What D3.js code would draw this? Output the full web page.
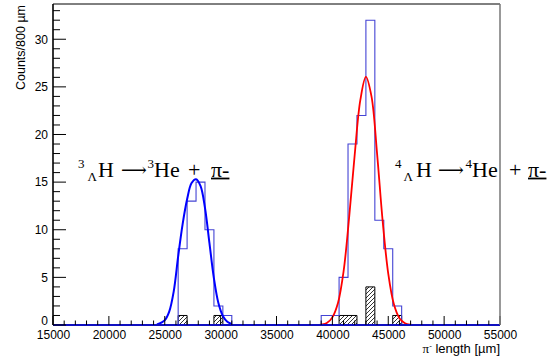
<!DOCTYPE html>
<html>
<head>
<meta charset="utf-8">
<script src="https://cdn.jsdelivr.net/npm/d3@7"></script>
<style>
  html, body { margin: 0; padding: 0; background: #fff; }
  svg { display: block; }
</style>
</head>
<body>
<svg id="chart" width="550" height="360"></svg>
<script>
// ---------------- data ----------------
const binWidth = 800;                       // µm per bin
const xDomain = [15000, 55000];
const yDomain = [0, 33.7];
const xMajorTicks = [15000, 20000, 25000, 30000, 35000, 40000, 45000, 50000, 55000];
const yMajorTicks = [0, 5, 10, 15, 20, 25, 30];

// blue histogram (all candidates): bin low edges and counts
const blueLow    = [26200, 27000, 27800, 28600, 29400, 30200,
                    39000, 39800, 40600, 41400, 42200, 43000, 43800, 44600, 45400];
const blueCounts = [8, 13, 15, 10, 2, 1,
                    1, 1, 5, 19, 22, 32, 11, 8, 2];

// hatched histogram
const hatchLow    = [26200, 29400, 40600, 41400, 43000, 45400];
const hatchCounts = [1, 1, 1, 1, 4, 1];

// fit curve of the 3ΛH peak
const fit3X = [24300, 25000, 25400, 25800, 26200, 26600, 27000, 27400, 27800, 28200, 28600, 29000, 29400, 29800, 30200, 30600, 31000];
const fit3Y = [0.05, 0.5, 1.4, 3.5, 7.2, 10.6, 13.2, 14.9, 15.3, 14.6, 12.3, 8.6, 4.9, 2.3, 0.95, 0.35, 0.1];

// fit curve of the 4ΛH peak
const fit4X = [38600, 39000, 39500, 40000, 40500, 41000, 41500, 42000, 42500, 43000, 43500, 44000, 44500, 45000, 45500, 46000, 46500, 47000, 47800];
const fit4Y = [0.0, 0.05, 0.2, 0.8, 2.3, 5.6, 11.3, 17.9, 23.6, 26.05, 24.0, 18.0, 10.9, 5.4, 2.2, 0.72, 0.19, 0.04, 0.0];

const yTitle = "Counts/800 µm";
const xTitle = ["π", "-", " length [µm]"];

// ---------------- chart ----------------
const svg = d3.select("#chart");
const L = 53, R = 500, T = 4, B = 325;
const x = d3.scaleLinear().domain(xDomain).range([L, R]);
const y = d3.scaleLinear().domain(yDomain).range([B, T]);

// hatch pattern
const defs = svg.append("defs");
const pat = defs.append("pattern")
  .attr("id", "hatch").attr("patternUnits", "userSpaceOnUse")
  .attr("width", 4).attr("height", 4);
pat.append("path").attr("d", "M-1,1 l2,-2 M0,4 l4,-4 M3,5 l2,-2")
  .attr("stroke", "#000").attr("stroke-width", 0.8);

// build full bin array from sparse data
function fullBins(lows, counts) {
  const n = Math.round((xDomain[1] - xDomain[0]) / binWidth);
  const arr = new Array(n).fill(0);
  lows.forEach((lo, i) => {
    const k = Math.round((lo - xDomain[0]) / binWidth);
    arr[k] = counts[i];
  });
  return arr;
}
function stepPath(arr) {
  let d = `M${x(xDomain[0])},${y(0)}`;
  arr.forEach((c, k) => {
    const x0 = x(xDomain[0] + k * binWidth), x1 = x(xDomain[0] + (k + 1) * binWidth);
    d += `L${x0},${y(c)}L${x1},${y(c)}`;
  });
  d += `L${x(xDomain[1])},${y(0)}`;
  return d;
}

// hatched histogram
const hatchArr = fullBins(hatchLow, hatchCounts);
svg.append("path")
  .attr("d", stepPath(hatchArr) + "Z")
  .attr("fill", "url(#hatch)")
  .attr("stroke", "#000").attr("stroke-width", 1);

// dark red baseline segment (third histogram at zero)
svg.append("line")
  .attr("x1", x(hatchLow[0] + binWidth)).attr("x2", x(hatchLow[1]))
  .attr("y1", y(0) - 0.5).attr("y2", y(0) - 0.5)
  .attr("stroke", "#a02020").attr("stroke-width", 1);

// blue histogram
const blueArr = fullBins(blueLow, blueCounts);
svg.append("path")
  .attr("d", stepPath(blueArr))
  .attr("fill", "none")
  .attr("stroke", "#4444d4").attr("stroke-width", 1.1);

// fits
const line = d3.line().x(d => x(d[0])).y(d => y(d[1])).curve(d3.curveCatmullRom);
svg.append("path")
  .attr("d", line(fit3X.map((v, i) => [v, fit3Y[i]])))
  .attr("fill", "none").attr("stroke", "#0000ff").attr("stroke-width", 2);
svg.append("path")
  .attr("d", line(fit4X.map((v, i) => [v, fit4Y[i]])))
  .attr("fill", "none").attr("stroke", "#ff0000").attr("stroke-width", 1.8);

// bottom baseline (histogram zero line, blue)
svg.append("line")
  .attr("x1", L).attr("x2", R).attr("y1", B).attr("y2", B)
  .attr("stroke", "#1010c0").attr("stroke-width", 2);

// x axis
const xAxis = d3.axisBottom(x).tickValues(xMajorTicks).tickSize(0).tickPadding(5)
  .tickFormat(d3.format("d"));
const gx = svg.append("g").attr("transform", `translate(0,${B})`).call(xAxis);
gx.select(".domain").remove();
gx.selectAll("text").attr("font-family", "Liberation Sans, Arial, sans-serif")
  .attr("font-size", 12).attr("fill", "#000");
const xMinor = d3.range(xDomain[0], xDomain[1] + 1, 1000);
svg.append("g").selectAll("line").data(xMinor).join("line")
  .attr("x1", d => x(d)).attr("x2", d => x(d))
  .attr("y1", B).attr("y2", d => B - (d % 5000 === 0 ? 9 : 4.5))
  .attr("stroke", "#000").attr("stroke-width", 1);

// y axis
const yAxis = d3.axisLeft(y).tickValues(yMajorTicks).tickSize(0).tickPadding(5);
const gy = svg.append("g").attr("transform", `translate(${L},0)`).call(yAxis);
gy.select(".domain").remove();
gy.selectAll("text").attr("font-family", "Liberation Sans, Arial, sans-serif")
  .attr("font-size", 12).attr("fill", "#000");
gy.selectAll("text").filter(d => d === 0).attr("dy", "-0.06em");
const yMinor = d3.range(0, 34, 1);
svg.append("g").selectAll("line").data(yMinor).join("line")
  .attr("x1", L).attr("x2", d => L + (d % 5 === 0 ? 13 : 7))
  .attr("y1", d => y(d)).attr("y2", d => y(d))
  .attr("stroke", "#000").attr("stroke-width", 1);
svg.append("line").attr("x1", L).attr("x2", L).attr("y1", T).attr("y2", B)
  .attr("stroke", "#000").attr("stroke-width", 1.6);

// axis titles
svg.append("text")
  .attr("transform", `translate(25,${T + 1}) rotate(-90)`)
  .attr("text-anchor", "end")
  .attr("font-family", "Liberation Sans, Arial, sans-serif").attr("font-size", 12.5)
  .text(yTitle);
const xt = svg.append("text").attr("x", R).attr("y", 353).attr("text-anchor", "end")
  .attr("font-family", "Liberation Sans, Arial, sans-serif").attr("font-size", 13);
xt.append("tspan").attr("font-family", "Liberation Serif, serif").text(xTitle[0]);
xt.append("tspan").attr("font-size", 8).attr("dy", -5).text(xTitle[1]);
xt.append("tspan").attr("dy", 5).text(xTitle[2]);

// reaction labels: one text each, pieces placed as tspans
function reaction(pieces, yb) {
  const t = svg.append("text")
    .attr("font-family", "Liberation Serif, Times New Roman, serif")
    .attr("font-size", 22);
  pieces.forEach(p => {
    const s = t.append("tspan")
      .attr("x", p.x).attr("y", yb + (p.shift || 0))
      .text(p.t);
    if (p.size) s.attr("font-size", p.size);
    if (p.family) s.attr("font-family", p.family);
    if (p.under) {
      const bb = s.node().getBBox();
      svg.append("line").attr("x1", bb.x).attr("x2", bb.x + bb.width)
        .attr("y1", yb + 2).attr("y2", yb + 2)
        .attr("stroke", "#000").attr("stroke-width", 1.8);
    }
  });
}
reaction([
  {t: "3", x: 78, size: 13, shift: -9},
  {t: "Λ", x: 87.5, size: 13, shift: 4},
  {t: "H", x: 98},
  {t: "⟶", x: 121, size: 18, family: "DejaVu Serif, DejaVu Sans, sans-serif", shift: -1},
  {t: "3", x: 147.5, size: 13, shift: -9},
  {t: "He", x: 154},
  {t: "+", x: 188},
  {t: "π-", x: 211, under: true}
], 176.5);
reaction([
  {t: "4", x: 395, size: 13, shift: -9},
  {t: "Λ", x: 403.5, size: 13, shift: 4},
  {t: "H", x: 416},
  {t: "⟶", x: 438, size: 18, family: "DejaVu Serif, DejaVu Sans, sans-serif", shift: -1},
  {t: "4", x: 465.5, size: 13, shift: -9},
  {t: "He", x: 472},
  {t: "+", x: 509},
  {t: "π-", x: 528, under: true}
], 176.5);

// frame (drawn above the labels, as in the reference)
svg.append("line").attr("x1", L).attr("x2", R).attr("y1", T).attr("y2", T)
  .attr("stroke", "#000").attr("stroke-width", 1);
svg.append("line").attr("x1", R).attr("x2", R).attr("y1", T).attr("y2", B)
  .attr("stroke", "#777").attr("stroke-width", 1.5);
</script>
</body>
</html>
